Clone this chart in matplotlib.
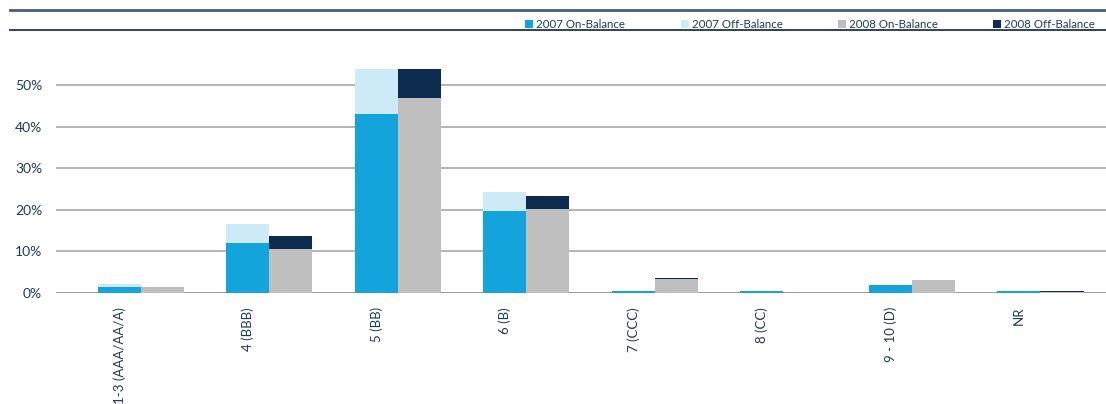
import matplotlib
matplotlib.use("Agg")
from matplotlib import pyplot as plt
from matplotlib.patches import Rectangle
from matplotlib.lines import Line2D
import numpy as np

plt.rcParams['font.family'] = ['Lato', 'DejaVu Sans']

# rating buckets and exposure shares (% of total)
categories = ["1-3 (AAA/AA/A)", "4 (BBB)", "5 (BB)", "6 (B)",
              "7 (CCC)", "8 (CC)", "9 - 10 (D)", "NR"]
on_2007 = [1.5, 12.0, 43.0, 19.7, 0.4, 0.4, 2.0, 0.4]
off_2007 = [0.7, 4.6, 10.8, 4.6, 0.0, 0.0, 0.0, 0.0]
on_2008 = [1.5, 10.6, 46.9, 20.2, 3.4, 0.0, 3.1, 0.3]
off_2008 = [0.0, 3.1, 6.9, 3.1, 0.3, 0.0, 0.0, 0.3]
yticks = [0, 10, 20, 30, 40, 50]

series_names = ["2007 On-Balance", "2007 Off-Balance",
                "2008 On-Balance", "2008 Off-Balance"]
colors = ["#12a4db", "#cdebf6", "#bfbfbf", "#0d2a4f"]
text_col = "#1f3a5f"

fig = plt.figure(figsize=(11.06, 4.04), dpi=100)
ax = fig.add_axes([56 / 1106, 111 / 404, 1 - 56 / 1106, 249.6 / 404])

x = np.arange(len(categories))
w = 0.335
ax.bar(x - w / 2, on_2007, w, color=colors[0], linewidth=0, zorder=3)
ax.bar(x - w / 2, off_2007, w, bottom=on_2007, color=colors[1], linewidth=0, zorder=3)
ax.bar(x + w / 2, on_2008, w, color=colors[2], linewidth=0, zorder=3)
ax.bar(x + w / 2, off_2008, w, bottom=on_2008, color=colors[3], linewidth=0, zorder=3)

ax.set_xlim(-0.66, 7.51)
ax.set_ylim(0, 60)
ax.set_yticks(yticks)
ax.set_yticklabels([f"{v}%" for v in yticks], fontsize=10, color=text_col)
for v in yticks[1:]:
    ax.axhline(v, color="#b4b4b4", lw=1.4, zorder=1)
ax.axhline(0, color="#9a9a9a", lw=1.4, zorder=2)

ax.set_xticks(x - w / 2)
ax.set_xticklabels(categories, rotation=90, fontsize=9.5, color=text_col, va="top")
ax.tick_params(axis="both", length=0)
ax.tick_params(axis="x", pad=10)
ax.tick_params(axis="y", pad=10)
for s in ax.spines.values():
    s.set_visible(False)

# header rules
fig.add_artist(Line2D([10 / 1106, 1], [1 - 10 / 404] * 2, color="#4a5d78", lw=2.0))
fig.add_artist(Line2D([10 / 1106, 1], [1 - 29.5 / 404] * 2, color="#1f3355", lw=1.3))

# legend row
marker_x = [525, 681, 838, 993]
for mx, name, c in zip(marker_x, series_names, colors):
    fig.add_artist(Rectangle((mx / 1106, 1 - 28 / 404), 8 / 1106, 8 / 404,
                             transform=fig.transFigure, color=c, lw=0))
    fig.text((mx + 11) / 1106, 1 - 24 / 404, name, fontsize=8.3, color=text_col,
             va="center", ha="left")

fig.savefig("out.png", dpi=100)
